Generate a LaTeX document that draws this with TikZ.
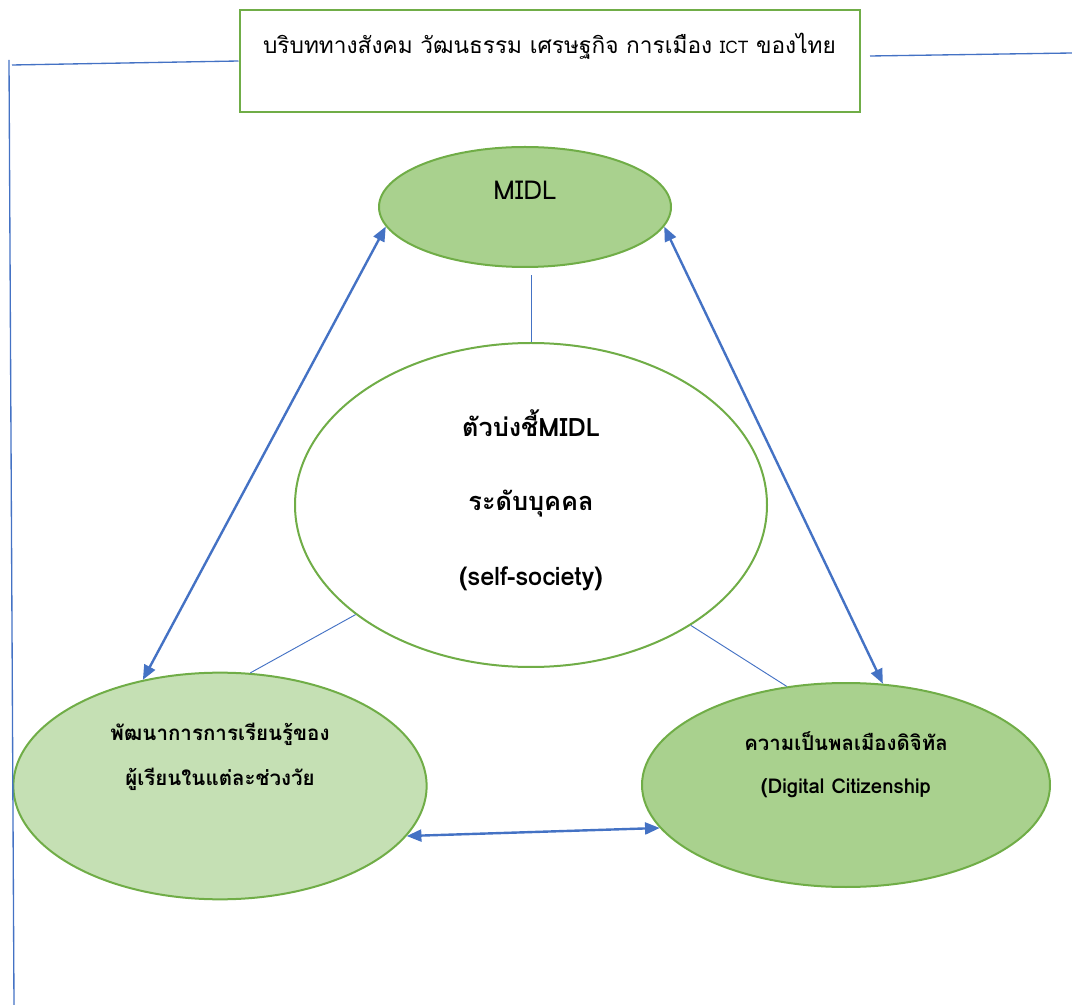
\documentclass[tikz,border=0pt]{standalone}
\usepackage{fontspec}
\setmainfont[Script=Thai]{Loma}
\usetikzlibrary{shapes.geometric,arrows.meta}

\definecolor{boxgreen}{HTML}{70AD47}
\definecolor{midgreen}{HTML}{A9D18E}
\definecolor{lightgreen}{HTML}{C5E0B4}
\definecolor{linkblue}{HTML}{4472C4}

\begin{document}
\begin{tikzpicture}[x=0.75pt,y=-0.75pt]
		\tikzset{oval/.style = {shape=ellipse, draw=boxgreen, line width=1.5pt, inner sep=0pt},
			link/.style = {draw=linkblue, line width=1.8pt, {Triangle[length=11pt,width=9pt]}-{Triangle[length=11pt,width=9pt]}},
			thinlink/.style = {draw=linkblue, line width=0.7pt},
			label/.style = {align=center, text=black}}

		\useasboundingbox (0,0) rectangle (1072,1005);

		\node[draw=boxgreen, line width=1.5pt, minimum width=465pt, minimum height=76pt] (ctx) at (549.5,61) {};
		\node[label, font=\fontsize{17}{20}\selectfont] (ctx_t) at (549.5,46) {บริบททางสังคม วัฒนธรรม เศรษฐกิจ การเมือง {\fontsize{13}{15}\selectfont ICT} ของไทย};

		\node[oval, fill=midgreen, minimum width=219pt, minimum height=90pt] (midl) at (525,207) {};
		\node[label, font=\fontsize{19.5}{23}\selectfont] (midl_t) at (525,190) {MIDL};

		\node[oval, fill=white, minimum width=354pt, minimum height=243pt] (self) at (531,505) {};
		\node[label, font=\bfseries\fontsize{19}{56}\selectfont] (self_t) at (531,500) {ตัวบ่งชี้MIDL\\ระดับบุคคล\\(self-society)};

		\node[oval, fill=lightgreen, minimum width=310pt, minimum height=170pt] (learn) at (220,786) {};
		\node[label, font=\bfseries\fontsize{15.4}{34}\selectfont] (learn_t) at (220,757) {พัฒนาการการเรียนรู้ของ\\ผู้เรียนในแต่ละช่วงวัย};

		\node[oval, fill=midgreen, minimum width=306pt, minimum height=153pt] (citizen) at (846,785) {};
		\node[label, font=\bfseries\fontsize{15.3}{32}\selectfont] (citizen_t) at (846,765) {ความเป็นพลเมืองดิจิทัล\\(Digital Citizenship};

		\coordinate (L_top) at (9,60);
		\coordinate (L_bot) at (14,1005);
		\coordinate (L_end) at (12,65);
		\coordinate (R_start) at (870,56);
		\coordinate (R_end) at (1072,53);

		\draw[thinlink, line width=1pt] (L_top)--(L_bot);
		\draw[thinlink, line width=1pt] (ctx.west)--(L_end);
		\draw[thinlink, line width=1pt] (R_start)--(R_end);

		\draw[thinlink] (self.north)--++(0,-67);
		\draw[thinlink] (self.212)--(learn.75);
		\draw[thinlink] (self.323)--(citizen.121);

		\draw[link] (midl.188)--(learn.126);
		\draw[link] (midl.352)--(citizen.70);
		\draw[link] (learn.345)--(citizen.193);

	\end{tikzpicture}
\end{document}
